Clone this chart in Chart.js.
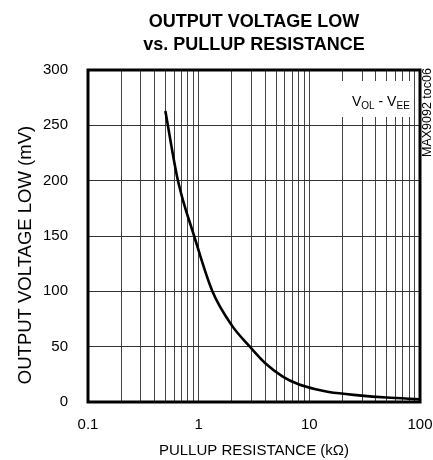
<!DOCTYPE html>
<html>
<head>
<meta charset="utf-8">
<script src="https://cdn.jsdelivr.net/npm/chart.js@4/dist/chart.umd.min.js"></script>
<style>
  html, body { margin: 0; padding: 0; background: #fff; }
  #wrap { width: 433px; height: 460px; position: relative; }
</style>
</head>
<body>
<div id="wrap"><canvas id="chart"></canvas></div>
<script>
// pullup resistance (kOhm) and output voltage low (mV)
const resistance = [0.5, 0.65, 0.91, 1.33, 2, 2.9, 4, 5.75, 8, 12, 15, 28, 50, 100];
const voltage = [263, 200, 150, 100, 69, 50, 35, 23, 16, 11, 9, 6, 4, 2.5];

const xDecades = [0.1, 1, 10];
const xLabels = [0.1, 1, 10, 100];
const yTickStep = 50;

const titleLines = ["OUTPUT VOLTAGE LOW", "vs. PULLUP RESISTANCE"];
const yTitle = "OUTPUT VOLTAGE LOW (mV)";
const xTitle = "PULLUP RESISTANCE (k\u03A9)";
const partNote = "MAX9092 toc06";

const FONT = "'Liberation Sans', Arial, sans-serif";

const decor = {
  id: "decor",
  afterDatasetsDraw(chart) {
    const { ctx, chartArea: a } = chart;
    ctx.save();

    // legend box with V_OL - V_EE
    ctx.fillStyle = "#fff";
    ctx.fillRect(a.right - 82, a.top + 11, 75, 36);
    ctx.fillStyle = "#000";
    ctx.textBaseline = "alphabetic";
    ctx.textAlign = "left";
    let x = a.right - 68;
    const base = a.top + 36;
    const parts = [["V", 14, 0], ["OL", 10, 3], [" - ", 14, 0], ["V", 14, 0], ["EE", 10, 3]];
    parts.forEach(([t, size, drop]) => {
      ctx.font = size + "px " + FONT;
      ctx.fillText(t, x, base + drop);
      x += ctx.measureText(t).width;
    });

    // plot frame
    ctx.lineWidth = 3;
    ctx.strokeStyle = "#000";
    ctx.strokeRect(a.left, a.top, a.right - a.left, a.bottom - a.top);

    // title
    const cx = (a.left + a.right) / 2;
    ctx.textAlign = "center";
    ctx.font = "bold 18px " + FONT;
    ctx.fillText(titleLines[0], cx, 27);
    ctx.fillText(titleLines[1], cx, 50);

    // y axis title
    ctx.save();
    ctx.translate(31, 255);
    ctx.rotate(-Math.PI / 2);
    ctx.font = "18.5px " + FONT;
    ctx.fillText(yTitle, 0, 0);
    ctx.restore();

    // side note
    ctx.save();
    ctx.translate(431, 157);
    ctx.rotate(-Math.PI / 2);
    ctx.textAlign = "left";
    ctx.font = "12.5px " + FONT;
    ctx.fillText(partNote, 0, 0);
    ctx.restore();

    ctx.restore();
  }
};

new Chart(document.getElementById("chart"), {
  type: "line",
  data: {
    datasets: [{
      data: resistance.map((r, i) => ({ x: r, y: voltage[i] })),
      borderColor: "#000",
      borderWidth: 2.6,
      pointRadius: 0,
      cubicInterpolationMode: "monotone",
      fill: false
    }]
  },
  options: {
    responsive: true,
    maintainAspectRatio: false,
    animation: false,
    devicePixelRatio: 1,
    layout: { padding: { left: 0, top: 70, right: 13, bottom: 0 } },
    plugins: { legend: { display: false }, tooltip: { enabled: false } },
    scales: {
      x: {
        type: "logarithmic",
        min: 0.1,
        max: 100,
        afterBuildTicks: (scale) => {
          const ticks = [];
          xDecades.forEach((d) => {
            for (let k = 1; k <= 9; k++) ticks.push({ value: d * k });
          });
          ticks.push({ value: 100 });
          scale.ticks = ticks;
        },
        afterFit: (scale) => {
          scale.height = 58;
          scale.paddingLeft = 0;
          scale.paddingRight = 0;
        },
        ticks: {
          autoSkip: false,
          maxRotation: 0,
          padding: 14,
          color: "#000",
          font: { family: FONT, size: 15 },
          callback: (v) => {
            const hit = xLabels.find((l) => Math.abs(l - v) < 1e-9);
            return hit === undefined ? "" : String(hit);
          }
        },
        grid: { color: "#444", lineWidth: 1, drawTicks: false },
        border: { display: false },
        title: {
          display: true,
          text: xTitle,
          color: "#000",
          font: { family: FONT, size: 15 },
          padding: { top: 0, bottom: 0 }
        }
      },
      y: {
        min: 0,
        max: 300,
        afterFit: (scale) => {
          scale.width = 88;
          scale.paddingTop = 0;
          scale.paddingBottom = 0;
        },
        ticks: {
          stepSize: yTickStep,
          padding: 20,
          color: "#000",
          font: { family: FONT, size: 15 }
        },
        grid: { color: "#333", lineWidth: 1, drawTicks: false },
        border: { display: false }
      }
    }
  },
  plugins: [decor]
});
</script>
</body>
</html>
